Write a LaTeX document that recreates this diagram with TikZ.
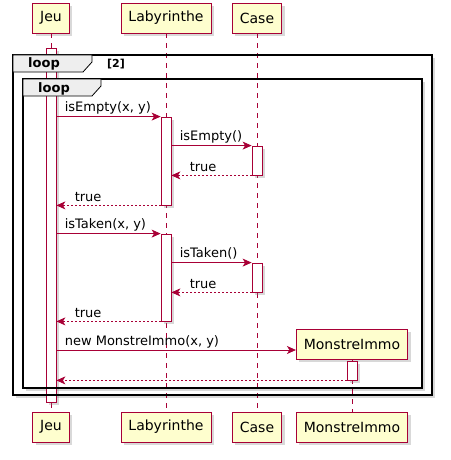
\documentclass[tikz,border=0pt]{standalone}
\usepackage{fontspec}
\setmainfont{DejaVu Sans}
\usepackage{tikz}
\usetikzlibrary{arrows.meta,shadows}
\definecolor{umlred}{HTML}{A80036}
\definecolor{umlfill}{HTML}{FEFECE}
\definecolor{tabgray}{HTML}{EEEEEE}

\begin{document}
\begin{tikzpicture}[x=1pt,y=-1pt,>={Stealth[length=9pt,width=8pt,inset=2.5pt]},
    shade/.style={drop shadow={shadow xshift=3pt,shadow yshift=-3pt,opacity=0.3}},
    part node/.style={rectangle,draw=umlred,fill=umlfill,line width=0.8pt,shade,
                      minimum height=30pt,inner xsep=7.5pt,font=\fontsize{14}{16}\selectfont},
    act node/.style={rectangle,draw=umlred,fill=white,line width=0.8pt,shade,
                     minimum width=10pt,inner sep=0pt},
    life/.style={umlred,line width=0.8pt,dash pattern=on 5pt off 5pt},
    msg/.style={->,umlred,line width=0.8pt},
    ret/.style={msg,dash pattern=on 2pt off 2pt},
    lbl/.style={text=black,font=\fontsize{13}{15}\selectfont,anchor=base west,inner sep=0pt},
    frame fill/.style={fill=white,shade},
    frame box/.style={draw=black,line width=1.5pt},
    tab box/.style={draw=black,fill=tabgray,line width=0.8pt}]

  \useasboundingbox (0,0) rectangle (450,460);

  % frame backgrounds
  \fill[frame fill] (13,55) rectangle (432,395);
  \fill[frame fill] (23,79) rectangle (422,388);

  % participants
  \node[part node] (jeu)  at (51,18)  {Jeu};
  \node[part node] (laby) at (166,18) {Labyrinthe};
  \node[part node] (case) at (257,18) {Case};
  \node[part node] (jeuEnd)  at (51,427)  {Jeu};
  \node[part node] (labyEnd) at (166,427) {Labyrinthe};
  \node[part node] (caseEnd) at (257,427) {Case};
  \node[part node] (monEnd)  at (352,427) {MonstreImmo};
  \node[part node] (mon)     at (352,344) {MonstreImmo};

  % lifelines
  \draw[life] (jeu) -- (jeuEnd);
  \draw[life] (laby) -- (labyEnd);
  \draw[life] (case) -- (caseEnd);
  \draw[life] (mon) -- (monEnd);

  % activations
  \node[act node,minimum height=354pt] (jeuA)  at (51,225)    {};
  \node[act node,minimum height=88pt]  (labA1) at (166,161)   {};
  \node[act node,minimum height=29pt]  (casA1) at (257,160.5) {};
  \node[act node,minimum height=87pt]  (labA2) at (166,277.5) {};
  \node[act node,minimum height=29pt]  (casA2) at (257,277.5) {};
  \node[act node,minimum height=19pt]  (monA)  at (352,370.5) {};
  \coordinate (newAt) at (51,350);

  % loop frames
  \draw[frame box] (13,55) rectangle (432,395);
  \draw[tab box] (13,55) -- (92,55) -- (92,62) -- (83,72) -- (13,72) -- cycle;
  \node[lbl,font=\fontsize{13}{15}\selectfont\bfseries] (loop1) at (28,67) {loop};
  \node[lbl,font=\fontsize{11}{13}\selectfont\bfseries] (guard1) at (107,67) {[2]};
  \draw[frame box] (23,79) rectangle (422,388);
  \draw[tab box] (23,79) -- (101,79) -- (101,86) -- (92,96) -- (23,96) -- cycle;
  \node[lbl,font=\fontsize{13}{15}\selectfont\bfseries] (loop2) at (38,92) {loop};

  % messages
  \draw[msg] (jeuA.east |- labA1.north) -- (labA1.north west)
    node[lbl,at start,xshift=8pt,yshift=5pt] {isEmpty(x, y)};
  \draw[msg] (labA1.east |- casA1.north) -- (casA1.north west)
    node[lbl,at start,xshift=8pt,yshift=5pt] {isEmpty()};
  \draw[ret] (casA1.south west) -- (labA1.east |- casA1.south)
    node[lbl,at end,xshift=18pt,yshift=4pt] {true};
  \draw[ret] (labA1.south west) -- (jeuA.east |- labA1.south)
    node[lbl,at end,xshift=18pt,yshift=4pt] {true};
  \draw[msg] (jeuA.east |- labA2.north) -- (labA2.north west)
    node[lbl,at start,xshift=8pt,yshift=5pt] {isTaken(x, y)};
  \draw[msg] (labA2.east |- casA2.north) -- (casA2.north west)
    node[lbl,at start,xshift=8pt,yshift=5pt] {isTaken()};
  \draw[ret] (casA2.south west) -- (labA2.east |- casA2.south)
    node[lbl,at end,xshift=18pt,yshift=4pt] {true};
  \draw[ret] (labA2.south west) -- (jeuA.east |- labA2.south)
    node[lbl,at end,xshift=18pt,yshift=4pt] {true};
  \draw[msg] (jeuA.east |- newAt) -- (mon.west |- newAt)
    node[lbl,at start,xshift=8pt,yshift=5pt] {new MonstreImmo(x, y)};
  \draw[ret] (monA.south west) -- (jeuA.east |- monA.south);
\end{tikzpicture}
\end{document}
